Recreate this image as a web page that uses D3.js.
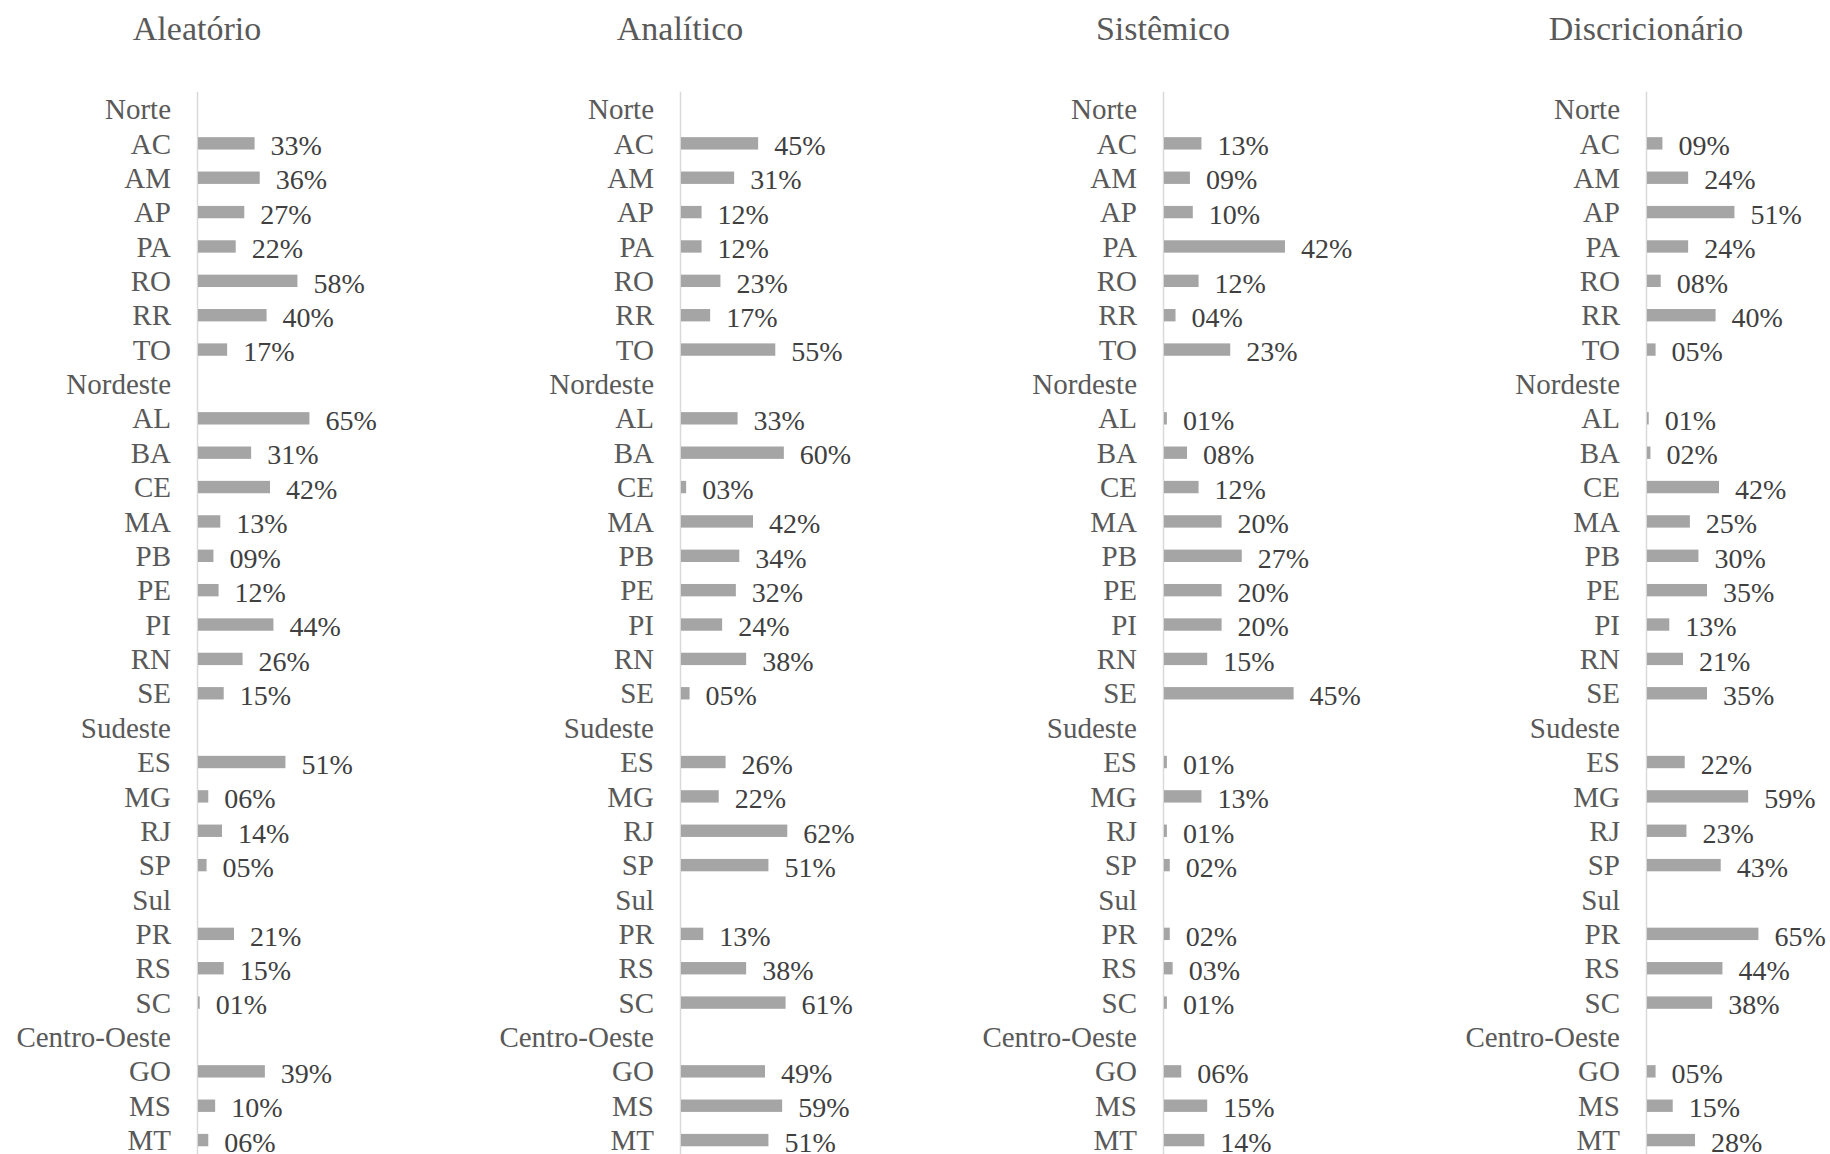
<!DOCTYPE html>
<html>
<head>
<meta charset="utf-8">
<script src="https://cdn.jsdelivr.net/npm/d3@7"></script>
<style>
  html, body { margin: 0; padding: 0; background: #fff; }
  svg { display: block; }
  svg text { font-family: 'Liberation Serif', 'Times New Roman', Times, 'DejaVu Serif', serif; }
</style>
</head>
<body>
<svg id="chart"></svg>
<script>
// rows, top to bottom: regions are headers with no bar
const rows = ["Norte", "AC", "AM", "AP", "PA", "RO", "RR", "TO",
    "Nordeste", "AL", "BA", "CE", "MA", "PB", "PE", "PI", "RN", "SE",
    "Sudeste", "ES", "MG", "RJ", "SP",
    "Sul", "PR", "RS", "SC",
    "Centro-Oeste", "GO", "MS", "MT"]
const regions = ["Norte", "Nordeste", "Sudeste", "Sul", "Centro-Oeste"]
const states = rows.filter(r => !regions.includes(r))

const panels = ["Aleatório", "Analítico", "Sistêmico", "Discricionário"]

// percent values per state, in the order of `states`
const aleatorio = [33, 36, 27, 22, 58, 40, 17,
    65, 31, 42, 13, 9, 12, 44, 26, 15,
    51, 6, 14, 5,
    21, 15, 1,
    39, 10, 6]
const analitico = [45, 31, 12, 12, 23, 17, 55,
    33, 60, 3, 42, 34, 32, 24, 38, 5,
    26, 22, 62, 51,
    13, 38, 61,
    49, 59, 51]
const sistemico = [13, 9, 10, 42, 12, 4, 23,
    1, 8, 12, 20, 27, 20, 20, 15, 45,
    1, 13, 1, 2,
    2, 3, 1,
    6, 15, 14]
const discricionario = [9, 24, 51, 24, 8, 40, 5,
    1, 2, 42, 25, 30, 35, 13, 21, 35,
    22, 59, 23, 43,
    65, 44, 38,
    5, 15, 28]
const series = [aleatorio, analitico, sistemico, discricionario]

// each small chart has its own axis maximum (like excel did)
const axisMax = [70, 70, 50, 70]

const W = 1830, H = 1154
const axisX = [197, 680, 1163, 1646]
const plotW = [120, 120, 144, 120]
const FONT = "'Liberation Serif', 'Times New Roman', serif"

const svg = d3.select("#chart").attr("width", W).attr("height", H)

// shared vertical band scale, centres line up across panels
const y = d3.scaleBand()
    .domain(rows)
    .range([91.8, 91.8 + 34.37 * rows.length])
    .paddingInner(0.64)
    .paddingOuter(0.32)

const fmt = v => String(v).padStart(2, "0") + "%"

panels.forEach((title, i) => {
    const g = svg.append("g").attr("transform", `translate(${axisX[i]},0)`)
    const x = d3.scaleLinear().domain([0, axisMax[i]]).range([0, plotW[i]])
    const data = states.map((s, k) => ({state: s, value: series[i][k]}))

    g.append("text")
        .attr("x", 0)
        .attr("y", 40)
        .attr("text-anchor", "middle")
        .attr("fill", "#595959")
        .attr("font-family", FONT)
        .attr("font-size", 34)
        .text(title)

    // category axis
    g.append("line")
        .attr("x1", 0.5).attr("x2", 0.5)
        .attr("y1", y.range()[0]).attr("y2", y.range()[1])
        .attr("stroke", "#d9d9d9")
        .attr("stroke-width", 1.5)

    g.selectAll("text.cat")
        .data(rows)
        .enter().append("text")
            .attr("class", "cat")
            .attr("x", -26)
            .attr("y", d => y(d) + y.bandwidth() / 2)
            .attr("dy", "0.35em")
            .attr("text-anchor", "end")
            .attr("fill", "#595959")
            .attr("font-family", FONT)
            .attr("font-size", 29)
            .text(d => d)

    g.selectAll("rect.bar")
        .data(data)
        .enter().append("rect")
            .attr("class", "bar")
            .attr("x", 1)
            .attr("y", d => y(d.state))
            .attr("width", d => x(d.value))
            .attr("height", y.bandwidth())
            .attr("fill", "#a5a5a5")

    g.selectAll("text.val")
        .data(data)
        .enter().append("text")
            .attr("class", "val")
            .attr("x", d => 1 + x(d.value) + 16)
            .attr("y", d => y(d.state) + y.bandwidth() / 2)
            .attr("dy", "0.42em")
            .attr("fill", "#404040")
            .attr("font-family", FONT)
            .attr("font-size", 28)
            .text(d => fmt(d.value))
})
</script>
</body>
</html>
